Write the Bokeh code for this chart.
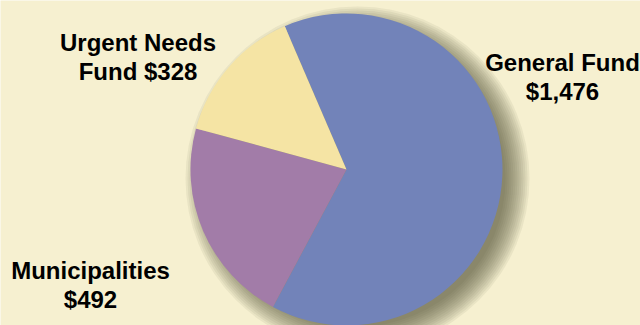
import math
from bokeh.plotting import figure
from bokeh.models import Range1d, ColumnDataSource
from bokeh.core.properties import value
from bokeh.embed import file_html
from bokeh.resources import INLINE

# ---- data ----
categories = ["General Fund", "Municipalities", "Urgent Needs Fund"]
amounts = [1476, 492, 328]
colors = ["#7283b9", "#a27ca8", "#f5e4a4"]
# label text split into two lines
label_line1 = ["General Fund", "Municipalities", "Urgent Needs"]
label_line2 = ["$1,476", "$492", "Fund $328"]

# ---- layout (pixels, y measured from top) ----
W, H = 640, 325
cx, cy, R = 346, 169, 156
start_deg = 113.3
label_pos = [(562, 62), (90, 270), (137.5, 42)]  # baseline of first line
line_gap = 29
BG = "#f6f0d0"

p = figure(width=W, height=H, output_backend="svg", toolbar_location=None,
           x_range=Range1d(0, W), y_range=Range1d(0, H), min_border=0)
p.axis.visible = False
p.grid.visible = False
p.outline_line_color = None
p.background_fill_color = BG
p.border_fill_color = BG

# shadow (stacked translucent circles approximating a blur)
sx, sy = cx + 11, H - (cy + 9)
for k in range(-8, 18, 2):
    p.circle(x=[sx], y=[sy], radius=R + k, fill_color="#56533a", fill_alpha=0.075,
             line_color=None)

# pie wedges
total = sum(amounts)
starts, ends = [], []
a = math.radians(start_deg)
for v in amounts:
    e = a - v / total * 2 * math.pi
    starts.append(a)
    ends.append(e)
    a = e
src = ColumnDataSource(dict(cat=categories, amt=amounts, color=colors,
                            start=starts, end=ends,
                            x=[cx] * 3, y=[H - cy] * 3))
p.wedge(x="x", y="y", radius=R, start_angle="start", end_angle="end",
        direction="clock", fill_color="color", line_color=None, source=src)

# labels
for (lx, ly), l1, l2 in zip(label_pos, label_line1, label_line2):
    for txt, yy in ((l1, ly), (l2, ly + line_gap)):
        p.text(x=[lx], y=[H - yy], text=[txt], text_align="center",
               text_baseline="alphabetic", text_font=value("Liberation Sans"),
               text_font_style="bold", text_font_size="24px", text_color="#000000")

open("out.html", "w").write(file_html(p, INLINE))
